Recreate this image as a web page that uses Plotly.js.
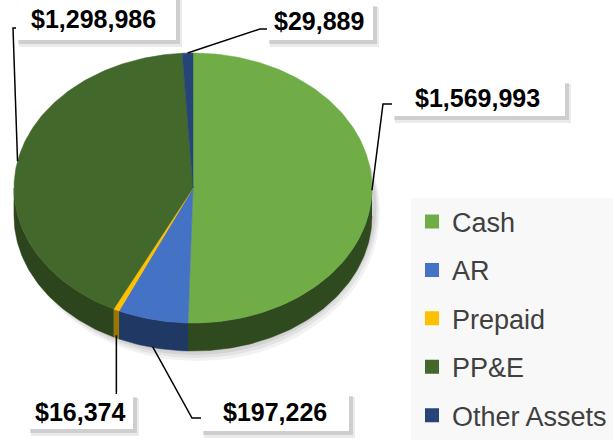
<!DOCTYPE html>
<html>
<head>
<meta charset="utf-8">
<script src="https://cdn.plot.ly/plotly-3.0.1.min.js"></script>
<style>html,body{margin:0;padding:0;background:#fff;}#chart{width:613px;height:440px;}</style>
</head>
<body>
<div id="chart"></div>
<script>
// ---- data ----
const categories = ['Cash', 'AR', 'Prepaid', 'PP&E', 'Other Assets'];
const values = [1569993, 197226, 16374, 1298986, 29889];

// ---- styles ----
const topColors = ['#70AD47', '#4472C4', '#FFC000', '#43682B', '#264478'];
const sideColors = ['#2E4A1E', '#1F3864', '#9C7500', '#2C451C', '#18294A'];

// ---- geometry (pixels, axis units = pixels) ----
const W = 613, H = 440;
const CX = 193, CY = 188, RX = 179, RY = 135, DEPTH = 28;

// label boxes [x0,y0,x1,y1], text centre, and leader elbow points (per category)
const labelBoxes = [[392, 80, 565, 116], [201, 393, 349, 431], [28, 394, 133, 429], [16, -4, 176, 40], [267, 3, 373, 40]];
const labelText = [[477, 98], [275, 412], [80, 412], [93, 19], [319, 21]];
const elbows = [[[383, 104], [392, 104]], [[192, 418], [201, 418]], [[null, 394]], [[13, 28], [16, 28]], [[260, 29], [267, 29]]];

const total = values.reduce((a, b) => a + b, 0);
const rad = d => d * Math.PI / 180;
function pt(theta, dy) { return [CX + RX * Math.sin(rad(theta)), CY - RY * Math.cos(rad(theta)) + (dy || 0)]; }

let start = 0;
const slices = values.map((v, i) => {
  const sweep = v / total * 360;
  const s = { a0: start, a1: start + sweep, mid: start + sweep / 2 };
  start += sweep;
  return s;
});

const traces = [];
// side faces (front half: 90..270 deg)
slices.forEach((s, i) => {
  const lo = Math.max(s.a0, 90), hi = Math.min(s.a1, 270);
  if (hi <= lo) return;
  const xs = [], ys = [];
  const n = Math.max(4, Math.ceil((hi - lo) / 1));
  for (let k = 0; k <= n; k++) { const p = pt(lo + (hi - lo) * k / n, 0); xs.push(p[0]); ys.push(p[1]); }
  for (let k = n; k >= 0; k--) { const p = pt(lo + (hi - lo) * k / n, DEPTH); xs.push(p[0]); ys.push(p[1]); }
  traces.push({ x: xs, y: ys, type: 'scatter', mode: 'lines', fill: 'toself', fillcolor: sideColors[i],
    line: { color: sideColors[i], width: 0.5 }, hoverinfo: 'skip', showlegend: false });
});
// top faces
slices.forEach((s, i) => {
  const xs = [CX], ys = [CY];
  const n = Math.max(4, Math.ceil((s.a1 - s.a0) / 1));
  for (let k = 0; k <= n; k++) { const p = pt(s.a0 + (s.a1 - s.a0) * k / n, 0); xs.push(p[0]); ys.push(p[1]); }
  xs.push(CX); ys.push(CY);
  traces.push({ x: xs, y: ys, type: 'scatter', mode: 'lines', fill: 'toself', fillcolor: topColors[i],
    line: { color: topColors[i], width: 0.5 }, name: categories[i], text: '$' + values[i].toLocaleString('en-US'),
    hoverinfo: 'name+text', showlegend: false });
});
// legend entries
categories.forEach((c, i) => {
  traces.push({ x: [null], y: [null], type: 'scatter', mode: 'markers', name: c, legendgroup: 'g' + i,
    marker: { symbol: 'square', size: 14, color: topColors[i] }, showlegend: true });
});

const shapes = [];
// soft shadow under pie
[[10, 0.05], [7, 0.06], [4, 0.07]].forEach(([off, op]) => {
  shapes.push({ type: 'circle', xref: 'x', yref: 'y', x0: CX - RX - 2 + off * 0.3, x1: CX + RX + 2 + off * 0.6,
    y0: CY - RY + off, y1: CY + RY + DEPTH + off, fillcolor: 'rgba(0,0,0,' + op + ')', line: { width: 0 }, layer: 'below' });
});
// legend background
shapes.push({ type: 'rect', xref: 'x', yref: 'y', x0: 411, x1: 613, y0: 198, y1: 440, fillcolor: '#F8F8F8', line: { width: 0 }, layer: 'below' });

const annotations = [];
slices.forEach((s, i) => {
  const c = Math.cos(rad(s.mid));
  const a = pt(s.mid, DEPTH * Math.max(0, -c));
  let path = 'M' + a[0] + ',' + a[1];
  elbows[i].forEach(e => { path += ' L' + (e[0] === null ? a[0] : e[0]) + ',' + e[1]; });
  shapes.push({ type: 'path', xref: 'x', yref: 'y', path: path, line: { color: '#000', width: 1.5 }, layer: 'above' });
  const b = labelBoxes[i];
  shapes.push({ type: 'rect', xref: 'x', yref: 'y', x0: b[0] + 3, x1: b[2] + 6, y0: b[1] + 4, y1: b[3] + 7, fillcolor: 'rgba(0,0,0,0.08)', line: { width: 0 }, layer: 'above' });
  shapes.push({ type: 'rect', xref: 'x', yref: 'y', x0: b[0] + 2, x1: b[2] + 4, y0: b[1] + 3, y1: b[3] + 4, fillcolor: 'rgba(0,0,0,0.12)', line: { width: 0 }, layer: 'above' });
  shapes.push({ type: 'rect', xref: 'x', yref: 'y', x0: b[0], x1: b[2], y0: b[1], y1: b[3], fillcolor: '#FFFFFF', line: { width: 0 }, layer: 'above' });
  annotations.push({ x: labelText[i][0], y: labelText[i][1], xref: 'x', yref: 'y', showarrow: false,
    text: '<b>$' + values[i].toLocaleString('en-US') + '</b>',
    font: { family: 'Arial, "Liberation Sans", sans-serif', size: 25, color: '#000' } });
});

const layout = {
  width: W, height: H, margin: { l: 0, r: 0, t: 0, b: 0, autoexpand: false },
  paper_bgcolor: '#fff', plot_bgcolor: 'rgba(0,0,0,0)',
  xaxis: { range: [0, W], visible: false, fixedrange: true },
  yaxis: { range: [H, 0], visible: false, fixedrange: true },
  showlegend: true,
  legend: { x: 412 / W, y: 1 - 197.5 / H, xanchor: 'left', yanchor: 'top', bgcolor: 'rgba(0,0,0,0)',
    font: { family: 'Arial, "Liberation Sans", sans-serif', size: 27, color: '#404040' },
    traceorder: 'grouped', tracegroupgap: 10.3 },
  shapes: shapes, annotations: annotations
};
Plotly.newPlot('chart', traces, layout, { displayModeBar: false, staticPlot: true });
</script>
</body>
</html>
